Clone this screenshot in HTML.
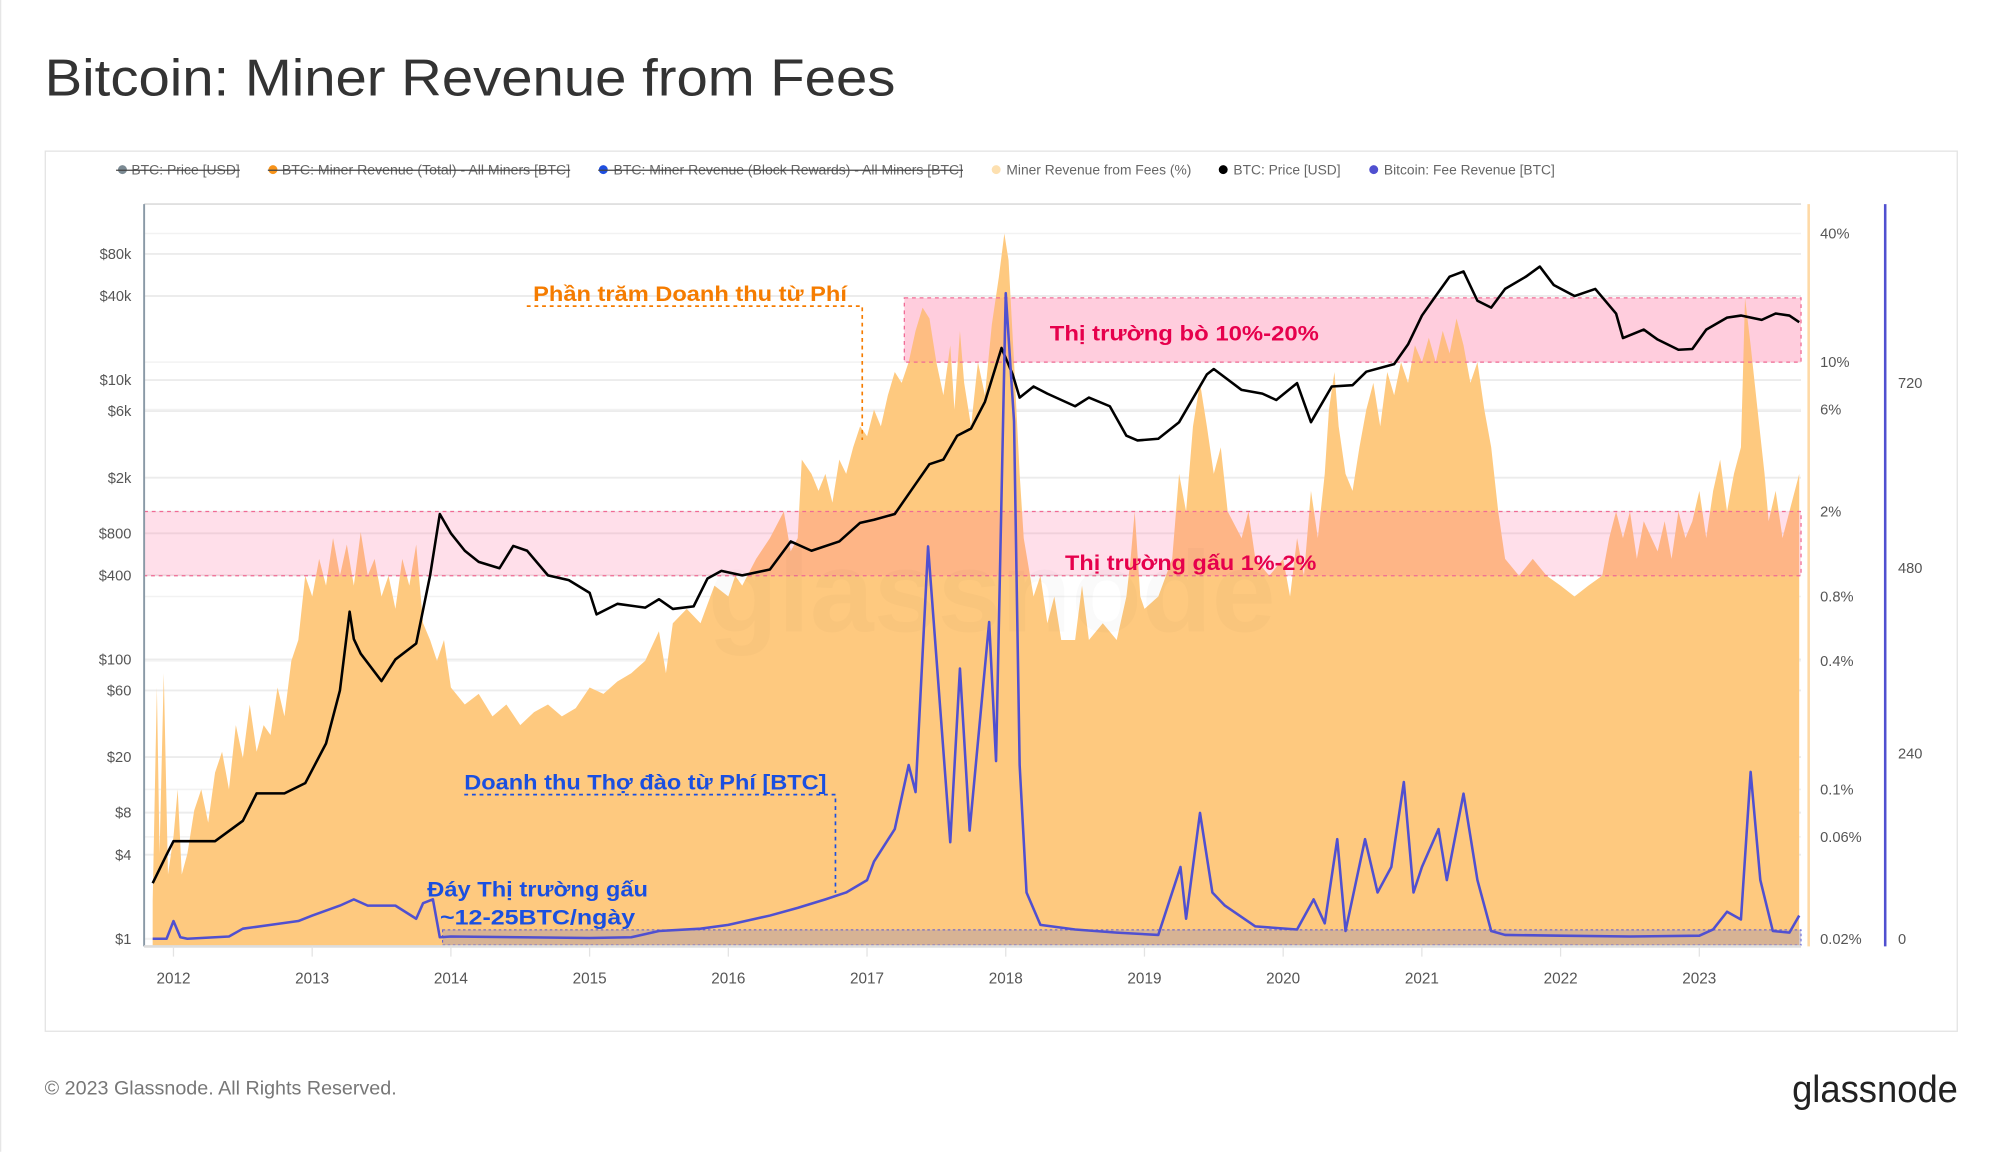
<!DOCTYPE html>
<html><head><meta charset="utf-8"><style>
html,body{margin:0;padding:0;background:#fff;}
svg{display:block;font-family:"Liberation Sans","Noto Sans CJK SC",sans-serif;}
</style></head><body>
<svg id="chart" width="2000" height="1152" viewBox="0 0 1568 903.17">
<rect x="0" y="0" width="1568" height="903.17" fill="#fff"/>
<line x1="0.5" y1="0" x2="0.5" y2="903" stroke="#e6e6e6"/>
<text x="35" y="75" font-size="41" fill="#333" textLength="667" lengthAdjust="spacingAndGlyphs">Bitcoin: Miner Revenue from Fees</text>
<rect x="35.5" y="118.5" width="1499" height="690" fill="#fff" stroke="#e3e3e3"/>
<g id="legend" font-size="10.5" fill="#666">
  <g><circle cx="96" cy="133" r="3.5" fill="#7b8a93"/><text x="103" y="137" textLength="85" lengthAdjust="spacingAndGlyphs">BTC: Price [USD]</text><line x1="91" y1="133.5" x2="188" y2="133.5" stroke="#444"/></g>
  <g><circle cx="214" cy="133" r="3.5" fill="#f7931a"/><text x="221" y="137" textLength="226" lengthAdjust="spacingAndGlyphs">BTC: Miner Revenue (Total) - All Miners [BTC]</text><line x1="210" y1="133.5" x2="447" y2="133.5" stroke="#444"/></g>
  <g><circle cx="473" cy="133" r="3.5" fill="#1f4fe0"/><text x="481" y="137" textLength="274" lengthAdjust="spacingAndGlyphs">BTC: Miner Revenue (Block Rewards) - All Miners [BTC]</text><line x1="469" y1="133.5" x2="755" y2="133.5" stroke="#444"/></g>
  <g><circle cx="781" cy="133" r="3.5" fill="#fde0b0"/><text x="789" y="137" textLength="145" lengthAdjust="spacingAndGlyphs">Miner Revenue from Fees (%)</text></g>
  <g><circle cx="959" cy="133" r="3.5" fill="#000"/><text x="967" y="137" textLength="84" lengthAdjust="spacingAndGlyphs">BTC: Price [USD]</text></g>
  <g><circle cx="1077" cy="133" r="3.5" fill="#5050d0"/><text x="1085" y="137" textLength="134" lengthAdjust="spacingAndGlyphs">Bitcoin: Fee Revenue [BTC]</text></g>
</g>
<g id="grid"></g>
<g id="bands-back"></g>
<g id="area"></g>
<g id="bands-front"></g>
<g id="price"></g>
<g id="feeline"></g>
<g id="axes"></g>
<g id="notes"></g>
<text x="1405" y="864" font-size="30" fill="#222" textLength="130" lengthAdjust="spacingAndGlyphs">glassnode</text>
<text x="35" y="858" font-size="15" fill="#777" textLength="276" lengthAdjust="spacingAndGlyphs">© 2023 Glassnode. All Rights Reserved.</text>
</svg>
<script>
const priceYears=[2011.85,2011.95,2012.0,2012.1,2012.3,2012.5,2012.6,2012.8,2012.95,2013.1,2013.2,2013.27,2013.3,2013.35,2013.5,2013.6,2013.75,2013.85,2013.92,2014.0,2014.1,2014.2,2014.35,2014.45,2014.55,2014.7,2014.85,2015.0,2015.05,2015.2,2015.4,2015.5,2015.6,2015.75,2015.85,2015.95,2016.1,2016.3,2016.45,2016.6,2016.8,2016.95,2017.05,2017.2,2017.35,2017.45,2017.55,2017.65,2017.75,2017.85,2017.97,2018.05,2018.1,2018.2,2018.3,2018.5,2018.6,2018.75,2018.87,2018.95,2019.1,2019.25,2019.45,2019.5,2019.7,2019.85,2019.95,2020.1,2020.2,2020.35,2020.5,2020.6,2020.8,2020.9,2021.0,2021.1,2021.2,2021.3,2021.4,2021.5,2021.6,2021.75,2021.85,2021.95,2022.1,2022.25,2022.4,2022.45,2022.6,2022.7,2022.85,2022.95,2023.05,2023.2,2023.3,2023.45,2023.55,2023.65,2023.72];
const priceValues=[2.5,4,5,5,5,7,11,11,13,25,60,220,140,110,70,100,130,400,1100,800,600,500,450,650,600,400,370,300,210,250,235,270,230,240,380,430,400,440,700,600,700,950,1000,1100,1800,2500,2700,4000,4500,7000,17000,11000,7500,9000,8000,6500,7500,6500,4000,3700,3800,5000,11000,12000,8500,8000,7200,9500,5000,9000,9200,11500,13000,18000,29000,40000,55000,60000,37000,33000,45000,55000,65000,48000,40000,45000,30000,20000,23000,19500,16500,16700,23000,28000,29000,27000,30000,29000,26000];
const feePctYears=[2011.85,2011.88,2011.9,2011.93,2011.96,2012.0,2012.03,2012.06,2012.1,2012.15,2012.2,2012.25,2012.3,2012.35,2012.4,2012.45,2012.5,2012.55,2012.6,2012.65,2012.7,2012.75,2012.8,2012.85,2012.9,2012.95,2013.0,2013.05,2013.1,2013.15,2013.2,2013.25,2013.3,2013.35,2013.4,2013.45,2013.5,2013.55,2013.6,2013.65,2013.7,2013.75,2013.8,2013.85,2013.9,2013.95,2014.0,2014.1,2014.2,2014.3,2014.4,2014.5,2014.6,2014.7,2014.8,2014.9,2015.0,2015.1,2015.2,2015.3,2015.4,2015.5,2015.55,2015.6,2015.7,2015.8,2015.9,2016.0,2016.05,2016.1,2016.2,2016.3,2016.4,2016.45,2016.5,2016.53,2016.6,2016.65,2016.7,2016.75,2016.8,2016.85,2016.9,2016.95,2017.0,2017.05,2017.1,2017.15,2017.2,2017.25,2017.3,2017.35,2017.4,2017.45,2017.5,2017.55,2017.6,2017.63,2017.67,2017.7,2017.75,2017.8,2017.85,2017.9,2017.95,2017.99,2018.02,2018.06,2018.1,2018.13,2018.2,2018.25,2018.3,2018.35,2018.4,2018.5,2018.55,2018.6,2018.7,2018.8,2018.87,2018.9,2018.93,2018.97,2019.0,2019.1,2019.2,2019.25,2019.3,2019.35,2019.4,2019.45,2019.5,2019.55,2019.6,2019.7,2019.75,2019.8,2019.9,2020.0,2020.05,2020.1,2020.15,2020.2,2020.25,2020.3,2020.33,2020.37,2020.4,2020.45,2020.5,2020.55,2020.6,2020.65,2020.7,2020.75,2020.8,2020.85,2020.9,2020.95,2021.0,2021.05,2021.1,2021.15,2021.2,2021.25,2021.3,2021.35,2021.4,2021.45,2021.5,2021.55,2021.6,2021.7,2021.8,2021.9,2022.0,2022.1,2022.2,2022.3,2022.35,2022.4,2022.45,2022.5,2022.55,2022.6,2022.7,2022.75,2022.8,2022.85,2022.9,2022.95,2023.0,2023.05,2023.1,2023.15,2023.2,2023.25,2023.3,2023.33,2023.37,2023.42,2023.47,2023.5,2023.55,2023.6,2023.65,2023.72];
const feePctValues=[0.03,0.3,0.05,0.35,0.04,0.06,0.1,0.04,0.05,0.08,0.1,0.07,0.12,0.15,0.1,0.2,0.14,0.25,0.15,0.2,0.18,0.3,0.22,0.4,0.5,1.0,0.8,1.2,0.9,1.5,1.0,1.4,0.9,1.6,1.0,1.2,0.8,1.0,0.7,1.2,0.9,1.4,0.6,0.5,0.4,0.5,0.3,0.25,0.28,0.22,0.25,0.2,0.23,0.25,0.22,0.24,0.3,0.28,0.32,0.35,0.4,0.55,0.35,0.6,0.7,0.6,0.9,0.8,1.0,0.9,1.2,1.5,2.0,1.3,1.5,3.5,3.0,2.5,3.0,2.2,3.5,3.0,4.0,5.0,4.5,6.0,5.0,7.0,9.0,8.0,10,14,18,16,10,7,12,6,14,8,5,10,7,15,25,40,30,10,3,1.5,0.8,1.0,0.6,0.8,0.5,0.5,0.9,0.5,0.6,0.5,0.8,1.2,2.0,0.8,0.7,0.8,1.2,3.0,2.0,5,8,5,3,4,2,1.5,2,1.2,1.0,1.2,0.8,1.5,1.0,2.5,1.5,3,6,9,5,3,2.5,4,6,8,5,9,7,10,8,12,10,13,10,14,11,16,12,8,10,6,4,2,1.2,1.0,1.2,1.0,0.9,0.8,0.9,1.0,1.5,2.0,1.5,2.0,1.2,1.8,1.3,1.8,1.2,2.0,1.5,1.8,2.5,1.5,2.5,3.5,2.0,3.0,4.0,20,12,6,3,1.8,2.5,1.5,2.0,3.0];
const feeBtcYears=[2011.85,2011.95,2012.0,2012.05,2012.1,2012.4,2012.5,2012.7,2012.9,2013.0,2013.2,2013.3,2013.4,2013.6,2013.75,2013.8,2013.87,2013.92,2014.0,2014.5,2015.0,2015.3,2015.5,2015.8,2016.0,2016.3,2016.5,2016.7,2016.85,2017.0,2017.05,2017.2,2017.3,2017.35,2017.44,2017.6,2017.67,2017.74,2017.88,2017.93,2018.0,2018.06,2018.1,2018.15,2018.25,2018.5,2018.8,2019.1,2019.26,2019.3,2019.4,2019.49,2019.58,2019.8,2020.1,2020.22,2020.3,2020.39,2020.45,2020.59,2020.68,2020.78,2020.87,2020.94,2021.0,2021.12,2021.18,2021.3,2021.4,2021.5,2021.6,2022.0,2022.5,2023.0,2023.1,2023.2,2023.3,2023.37,2023.44,2023.53,2023.65,2023.72];
const feeBtcValues=[0,0,23,2,0,3,13,18,23,30,43,51,43,43,26,46,51,2,3,2,1,2,10,13,18,30,40,51,60,76,100,142,225,190,508,125,350,140,410,230,836,670,225,60,18,12,8,5,93,26,163,60,43,16,12,51,20,129,10,129,60,93,203,60,93,142,76,188,76,10,5,4,3,4,12,35,25,216,76,10,8,30];
const yearTicks=[2012,2013,2014,2015,2016,2017,2018,2019,2020,2021,2022,2023];
const priceTicks=[1,4,8,20,60,100,400,800,2000,6000,10000,40000,80000];
const priceTickLabels=["$1","$4","$8","$20","$60","$100","$400","$800","$2k","$6k","$10k","$40k","$80k"];
const pctTicks=[0.02,0.06,0.1,0.4,0.8,2,6,10,40];
const pctTickLabels=["0.02%","0.06%","0.1%","0.4%","0.8%","2%","6%","10%","40%"];
const btcTicks=[0,240,480,720];

const NS="http://www.w3.org/2000/svg";
const X0=113,X1=1412,YT=160,YB=742;
const xScale=y=>136+(y-2012)*108.75;
const yPrice=p=>736-109.5*Math.log10(p);
const yPct=v=>736-167.5*Math.log10(v/0.02);
const yBtc=v=>736-v*0.6055;
function mk(tag,attrs,parent){const e=document.createElementNS(NS,tag);for(const k in attrs)e.setAttribute(k,attrs[k]);parent.appendChild(e);return e;}
const grid=document.getElementById('grid');
priceTicks.forEach(p=>{const l=mk('line',{x1:X0,x2:X1,y1:yPrice(p),y2:yPrice(p),stroke:'#ececec','stroke-width':1.5},grid);

});
pctTicks.forEach(p=>{const l=mk('line',{x1:X0,x2:X1,y1:yPct(p),y2:yPct(p),stroke:'#f2f2f2','stroke-width':1.2},grid);

});
const topl=mk('line',{x1:X0,x2:X1,y1:YT,y2:YT,stroke:'#e0e0e0','stroke-width':1.5},grid);



const bb=document.getElementById('bands-back');
const bull=mk('rect',{x:709,y:yPct(20),width:X1-709,height:yPct(10)-yPct(20),fill:'#ffdbe6'},bb);



const ar=document.getElementById('area');
let d='M'+xScale(feePctYears[0])+','+YB;
feePctYears.forEach((y,i)=>{d+=' L'+xScale(y).toFixed(1)+','+yPct(feePctValues[i]).toFixed(1);});
d+=' L'+xScale(feePctYears[feePctYears.length-1])+','+YB+' Z';
const area=mk('path',{d:d,fill:'#fec97f'},ar);



const bf=document.getElementById('bands-front');
const bullO=mk('rect',{x:709,y:yPct(20),width:X1-709,height:yPct(10)-yPct(20),fill:'#ff6fa0','fill-opacity':0.12,stroke:'#f06a94','stroke-dasharray':'3,3'},bf);


const bear=mk('rect',{x:X0,y:yPct(2),width:X1-X0,height:yPct(1)-yPct(2),fill:'#ff6fa0','fill-opacity':0.22,stroke:'#f06a94','stroke-dasharray':'3,3'},bf);


const bot=mk('rect',{x:347,y:729,width:X1-347,height:12,fill:'#a89ab0','fill-opacity':0.45,stroke:'#5a5ad8','stroke-dasharray':'2,2','stroke-width':0.8},bf);


const wm=mk('text',{x:555,y:495,'font-size':90,fill:'#000','fill-opacity':0.02,'font-weight':'bold'},bf);
wm.textContent='glassnode';



const pr=document.getElementById('price');
let pd='';priceYears.forEach((y,i)=>{pd+=(i?' L':'M')+xScale(y).toFixed(1)+','+yPrice(priceValues[i]).toFixed(1);});
const pl=mk('path',{d:pd,fill:'none',stroke:'#000','stroke-width':2,'stroke-linejoin':'round'},pr);



const fl=document.getElementById('feeline');
let fd='';feeBtcYears.forEach((y,i)=>{fd+=(i?' L':'M')+xScale(y).toFixed(1)+','+yBtc(feeBtcValues[i]).toFixed(1);});
const fpl=mk('path',{d:fd,fill:'none',stroke:'#5050d0','stroke-width':2,'stroke-linejoin':'round'},fl);



const ax=document.getElementById('axes');
const la=mk('line',{x1:X0,x2:X0,y1:YT,y2:YB,stroke:'#8a99a6','stroke-width':1.5},ax);


const xa=mk('line',{x1:X0,x2:X1,y1:YB,y2:YB,stroke:'#ddd','stroke-width':2},ax);


const ra=mk('line',{x1:1418,x2:1418,y1:YT,y2:YB,stroke:'#fed9a6','stroke-width':2},ax);


const ba=mk('line',{x1:1478,x2:1478,y1:YT,y2:YB,stroke:'#5050d0','stroke-width':2},ax);


yearTicks.forEach(y=>{const x=xScale(y);
const tl=mk('line',{x1:x,x2:x,y1:YB,y2:YB+8,stroke:'#e3e3e3'},ax);


const t=mk('text',{x:x,y:771,'font-size':12,fill:'#555','text-anchor':'middle'},ax);t.textContent=y;

});
priceTicks.forEach((p,i)=>{const t=mk('text',{x:103,y:yPrice(p)+4,'font-size':11.5,fill:'#555','text-anchor':'end'},ax);t.textContent=priceTickLabels[i];

});
pctTicks.forEach((p,i)=>{const t=mk('text',{x:1427,y:yPct(p)+4,'font-size':11.5,fill:'#555'},ax);t.textContent=pctTickLabels[i];

});
btcTicks.forEach(b=>{const t=mk('text',{x:1488,y:yBtc(b)+4,'font-size':11.5,fill:'#555'},ax);t.textContent=b;

});

const nt=document.getElementById('notes');
function note(txt,x,y,color,name,w){const t=mk('text',{x:x,y:y,'font-size':17,'font-weight':'bold',fill:color,textLength:w,lengthAdjust:'spacingAndGlyphs'},nt);t.textContent=txt;

}
note('Phần trăm Doanh thu từ Phí',418,236,'#f57c00','fee-percent-annotation',246);
const p1=mk('path',{d:'M413,240 L676,240 L676,345',fill:'none',stroke:'#f57c00','stroke-dasharray':'3,3','stroke-width':1.3},nt);


note('Thị trường bò 10%-20%',823,267,'#e6004c','bull-market-label',211);
note('Thị trường gấu 1%-2%',835,447,'#e6004c','bear-market-label',197);
note('Doanh thu Thợ đào từ Phí [BTC]',364,619,'#1a4fe0','fee-revenue-annotation',284);
const p2=mk('path',{d:'M364,623 L655,623 L655,700',fill:'none',stroke:'#1a4fe0','stroke-dasharray':'3,3','stroke-width':1.3},nt);


note('Đáy Thị trường gấu',335,703,'#1a4fe0','bear-bottom-label',173);
note('~12-25BTC/ngày',345,725,'#1a4fe0','bear-bottom-range-label',153);
</script>
</body></html>
